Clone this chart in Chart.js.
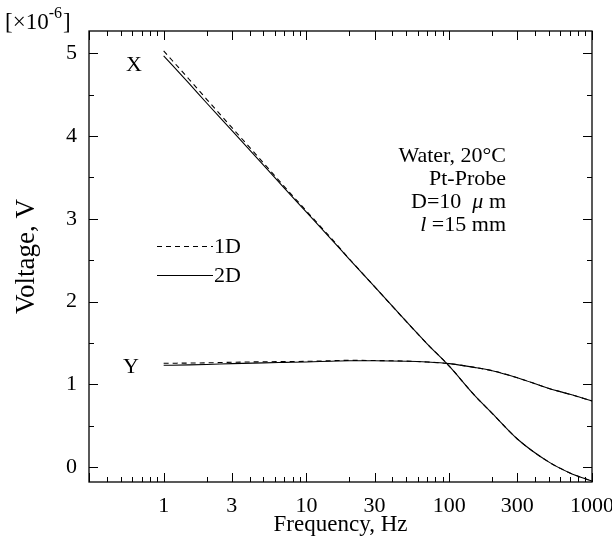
<!DOCTYPE html>
<html>
<head>
<meta charset="utf-8">
<script src="https://cdn.jsdelivr.net/npm/chart.js@4.4.1/dist/chart.umd.min.js"></script>
<style>
  body { margin: 0; background: #fff; }
  #chart { display: block; }
</style>
</head>
<body>
<canvas id="chart" width="612" height="541"></canvas>
<script>
// frequency points (Hz) and voltages in units of 1e-6 V
const freq = [1, 1.5, 2, 3, 5, 7, 10, 15, 20, 30, 50, 70, 100, 150, 200, 300, 500, 700, 1000];
const x2D = [4.97, 4.64, 4.40, 4.07, 3.65, 3.37, 3.08, 2.75, 2.51, 2.18, 1.76, 1.49, 1.22, 0.87, 0.65, 0.34, 0.06, -0.07, -0.17];
const x1D = [5.03, 4.69, 4.445, 4.105, 3.675, 3.39, 3.095, 2.76, 2.515, 2.18, 1.76, 1.49, 1.22, 0.87, 0.65, 0.34, 0.06, -0.07, -0.17];
const y2D = [1.23, 1.235, 1.24, 1.25, 1.26, 1.265, 1.27, 1.28, 1.285, 1.285, 1.28, 1.27, 1.25, 1.205, 1.165, 1.08, 0.95, 0.88, 0.80];
const y1D = [1.255, 1.257, 1.26, 1.267, 1.273, 1.275, 1.278, 1.286, 1.29, 1.288, 1.281, 1.27, 1.25, 1.205, 1.165, 1.08, 0.95, 0.88, 0.80];

const xTicks = [1, 3, 10, 30, 100, 300, 1000];
const yTicks = [0, 1, 2, 3, 4, 5];
const notes = ["Water, 20°C", "Pt-Probe", "D=10  ", "μ", " m", "l", " =15 mm"];

const FONT = "Liberation Serif";
const pts = (ys) => freq.map((f, i) => ({ x: f, y: ys[i] }));

const dashed = [5, 4];

const frame = {
  id: "frame",
  afterDraw(chart) {
    const { ctx, chartArea: a, scales } = chart;
    const sx = scales.x, sy = scales.y;
    ctx.save();
    ctx.strokeStyle = "#000";
    ctx.lineWidth = 1.3;
    ctx.strokeRect(a.left, a.top, a.right - a.left, a.bottom - a.top);

    ctx.lineWidth = 1;
    ctx.beginPath();
    // x ticks, bottom and top
    for (let dec = -1; dec <= 3; dec++) {
      for (let m = 1; m <= 9; m++) {
        const v = m * Math.pow(10, dec);
        if (v < sx.min || v > sx.max) continue;
        const px = Math.round(sx.getPixelForValue(v)) + 0.5;
        const len = (m === 1 || m === 3) ? 9 : 5;
        ctx.moveTo(px, a.bottom); ctx.lineTo(px, a.bottom - len);
        ctx.moveTo(px, a.top); ctx.lineTo(px, a.top + len);
      }
    }
    // y ticks, left and right
    for (let v = 0; v <= 5; v += 0.5) {
      const py = Math.round(sy.getPixelForValue(v)) + 0.5;
      const len = Number.isInteger(v) ? 9 : 5;
      ctx.moveTo(a.left, py); ctx.lineTo(a.left + len, py);
      ctx.moveTo(a.right, py); ctx.lineTo(a.right - len, py);
    }
    ctx.stroke();

    const f = (sz, it) => (it ? "italic " : "") + sz + "px '" + FONT + "'";
    ctx.fillStyle = "#000";
    ctx.font = f(23);
    ctx.textBaseline = "alphabetic";

    // unit label
    ctx.textAlign = "left";
    ctx.fillText("[×10", 5, 29);
    const w = ctx.measureText("[×10").width;
    ctx.font = f(16);
    ctx.fillText("-6", 5 + w, 18);
    const w2 = ctx.measureText("-6").width;
    ctx.font = f(23);
    ctx.fillText("]", 5 + w + w2 + 1, 29);

    // curve labels
    ctx.font = f(22);
    ctx.textAlign = "center";
    ctx.textBaseline = "middle";
    ctx.fillText("X", 134, 65);
    ctx.fillText("Y", 131, 367);

    // condition notes, right aligned
    ctx.textAlign = "right";
    ctx.textBaseline = "alphabetic";
    const right = 506;
    ctx.fillText(notes[0], right, 162);
    ctx.fillText(notes[1], right, 185);
    // D line with italic mu
    let x = right;
    ctx.fillText(notes[4], x, 208);
    x -= ctx.measureText(notes[4]).width;
    ctx.font = f(22, true);
    ctx.fillText(notes[3], x, 208);
    x -= ctx.measureText(notes[3]).width;
    ctx.font = f(22);
    ctx.fillText(notes[2], x, 208);
    // l line with italic l
    ctx.fillText(notes[6], right, 231);
    const lw = ctx.measureText(notes[6]).width;
    ctx.font = f(22, true);
    ctx.fillText(notes[5], right - lw, 231);

    // legend
    const legend = [
      { label: "1D", ds: chart.data.datasets[0], y: 246 },
      { label: "2D", ds: chart.data.datasets[1], y: 275 }
    ];
    ctx.font = f(22);
    ctx.textAlign = "left";
    ctx.textBaseline = "middle";
    legend.forEach((l) => {
      ctx.beginPath();
      ctx.setLineDash(l.ds.borderDash || []);
      ctx.lineWidth = 1.1;
      ctx.moveTo(157, l.y + 0.5);
      ctx.lineTo(213, l.y + 0.5);
      ctx.stroke();
      ctx.setLineDash([]);
      ctx.fillText(l.label, 214, l.y + 1);
    });
    ctx.restore();
  }
};

const common = { borderColor: "#000", borderWidth: 1.1, pointRadius: 0, cubicInterpolationMode: "monotone", fill: false };

new Chart(document.getElementById("chart"), {
  type: "line",
  data: {
    datasets: [
      { ...common, label: "X 1D", data: pts(x1D), borderDash: dashed },
      { ...common, label: "X 2D", data: pts(x2D) },
      { ...common, label: "Y 1D", data: pts(y1D), borderDash: dashed },
      { ...common, label: "Y 2D", data: pts(y2D) }
    ]
  },
  options: {
    responsive: false,
    animation: false,
    devicePixelRatio: 1,
    layout: { padding: { left: 0, top: 31, right: 20, bottom: 0 } },
    plugins: { legend: { display: false }, tooltip: { enabled: false } },
    scales: {
      x: {
        type: "logarithmic",
        min: 0.345,
        max: 1000,
        afterBuildTicks: (s) => { s.ticks = xTicks.map((v) => ({ value: v })); },
        afterFit: (s) => { s.height = 59; s.paddingLeft = 0; s.paddingRight = 0; },
        grid: { display: false, drawTicks: false },
        border: { display: false },
        ticks: {
          autoSkip: false, maxRotation: 0, padding: 11, color: "#000",
          font: { family: FONT, size: 22 },
          callback: (v) => String(v)
        },
        title: {
          display: true, text: "Frequency, Hz", color: "#000",
          font: { family: FONT, size: 23 }, padding: { top: 0, bottom: 2 }
        }
      },
      y: {
        min: -0.18,
        max: 5.27,
        afterBuildTicks: (s) => { s.ticks = yTicks.map((v) => ({ value: v })); },
        afterFit: (s) => { s.width = 89; s.paddingTop = 0; s.paddingBottom = 0; },
        grid: { display: false, drawTicks: false },
        border: { display: false },
        ticks: {
          padding: 12, color: "#000",
          font: { family: FONT, size: 22 }
        },
        title: {
          display: true, text: "Voltage, V", color: "#000",
          font: { family: FONT, size: 27 }, padding: { top: 11, bottom: 0 }
        }
      }
    }
  },
  plugins: [frame]
});
</script>
</body>
</html>
